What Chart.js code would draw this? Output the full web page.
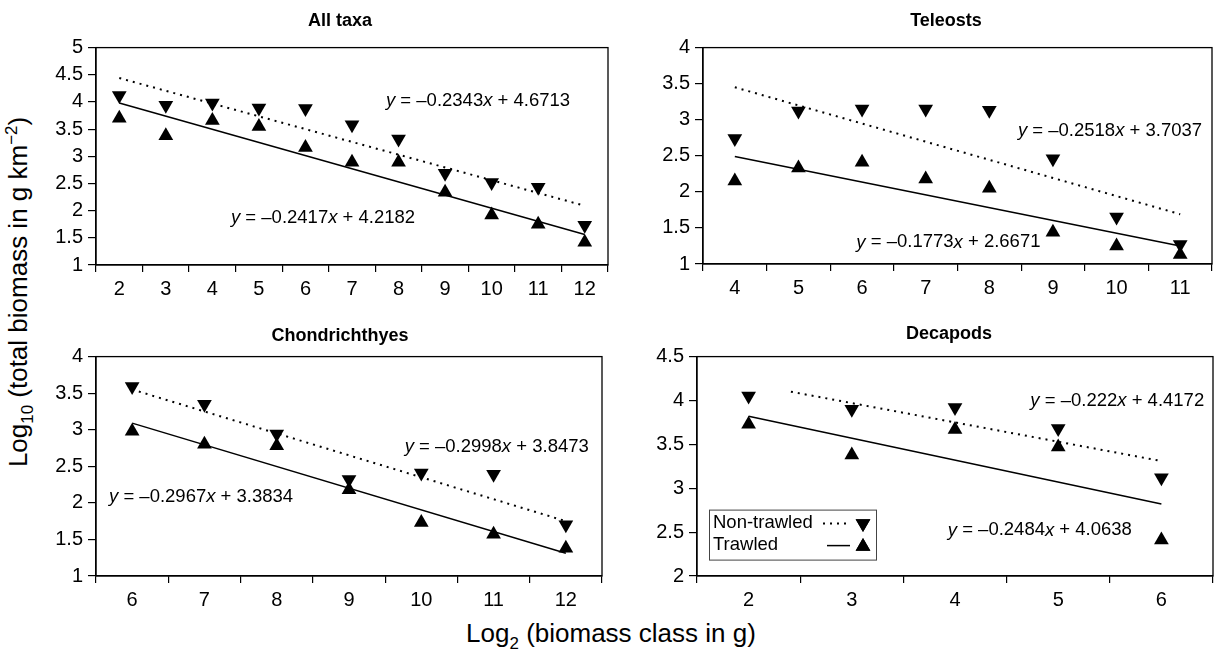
<!DOCTYPE html>
<html>
<head>
<meta charset="utf-8">
<script src="https://cdn.jsdelivr.net/npm/chart.js@4.4.0/dist/chart.umd.min.js"></script>
<style>
  html, body { margin: 0; padding: 0; background: #fff; overflow: hidden; }
  #wrap { position: relative; width: 1214px; height: 655px; overflow: hidden; font-family: "Liberation Sans", Arial, sans-serif; color: #000; }
  .panel { position: absolute; }
  .ytitle { position: absolute; left: 20px; top: 292px; transform: translate(-50%, -50%) rotate(-90deg); white-space: nowrap; font-size: 26px; }
  .xtitle { position: absolute; left: 611px; top: 636px; transform: translate(-50%, -50%); white-space: nowrap; font-size: 26px; }
  sub, sup { font-size: 65%; }
</style>
</head>
<body>
<div id="wrap">
  <div class="ytitle">Log<sub>10</sub> (total biomass in g km<sup>−2</sup>)</div>
  <div class="xtitle">Log<sub>2</sub> (biomass class in g)</div>
  <canvas id="c1" class="panel" width="600" height="310" style="left:40px;top:0px"></canvas>
  <canvas id="c2" class="panel" width="572" height="310" style="left:660px;top:0px"></canvas>
  <canvas id="c3" class="panel" width="600" height="306" style="left:40px;top:315px"></canvas>
  <canvas id="c4" class="panel" width="598" height="308" style="left:650px;top:313px"></canvas>
</div>
<script>
// All taxa
const allTaxaClass = [2, 3, 4, 5, 6, 7, 8, 9, 10, 11, 12];
const allTaxaNon = [4.12, 3.94, 3.98, 3.89, 3.88, 3.58, 3.32, 2.69, 2.52, 2.43, 1.73];
const allTaxaTrawl = [3.70, 3.38, 3.66, 3.55, 3.16, 2.89, 2.89, 2.34, 1.92, 1.75, 1.42];
const allTaxaFitX = [2, 12];
const allTaxaNonFit = [4.44, 2.09];
const allTaxaTrawlFit = [3.98, 1.56];
const allTaxaEq = ["y = –0.2343x + 4.6713", "y = –0.2417x + 4.2182"];

// Teleosts
const teleClass = [4, 5, 6, 7, 8, 9, 10, 11];
const teleNon = [2.74, 3.12, 3.15, 3.15, 3.13, 2.46, 1.65, 1.27];
const teleTrawl = [2.15, 2.33, 2.41, 2.18, 2.05, 1.44, 1.25, 1.13];
const teleFitX = [4, 11];
const teleNonFit = [3.45, 1.69];
const teleTrawlFit = [2.49, 1.25];
const teleEq = ["y = –0.2518x + 3.7037", "y = –0.1773x + 2.6671"];

// Chondrichthyes
const chonClass = [6, 7, 8, 9, 10, 11, 12];
const chonNon = [3.59, 3.35, 2.94, 2.32, 2.41, 2.39, 1.70];
const chonTrawl = [2.98, 2.80, 2.78, 2.18, 1.73, 1.57, 1.38];
const chonFitX = [6, 12];
const chonNonFit = [3.55, 1.75];
const chonTrawlFit = [3.09, 1.31];
const chonEq = ["y = –0.2998x + 3.8473", "y = –0.2967x + 3.3834"];

// Decapods
const decaClass = [2, 3, 4, 5, 6];
const decaNon = [4.05, 3.90, 3.92, 3.68, 3.12];
const decaTrawl = [3.73, 3.38, 3.67, 3.47, 2.41];
const decaNonFitX = [2.41, 6];
const decaNonFit = [4.10, 3.31];
const decaTrawlFitX = [2, 6];
const decaTrawlFit = [3.82, 2.82];
const decaEq = ["y = –0.222x + 4.4172", "y = –0.2484x + 4.0638"];

const legendLabels = ["Non-trawled", "Trawled"];

const FONT = '"Liberation Sans", Arial, sans-serif';
Chart.defaults.font.family = FONT;
Chart.defaults.color = "#000";

const pts = (xs, ys) => xs.map((x, i) => ({ x: x, y: ys[i] }));

function drawEq(ctx, x, y, text) {
  let cx = x;
  text.split(/(x|y)/).forEach((t) => {
    if (!t) return;
    ctx.font = (t === "x" || t === "y" ? "italic " : "") + "18.5px " + FONT;
    ctx.fillText(t, cx, y);
    cx += ctx.measureText(t).width;
  });
}

const framePlugin = {
  id: "frame",
  beforeDatasetsDraw(chart) {
    const a = chart.chartArea;
    const ctx = chart.ctx;
    ctx.save();
    ctx.strokeStyle = "#000";
    ctx.lineWidth = 1.3;
    ctx.strokeRect(a.left, a.top, a.right - a.left, a.bottom - a.top);
    ctx.restore();
  },
  afterDatasetsDraw(chart, args, opts) {
    const ctx = chart.ctx;
    const xs = chart.scales.xv, ys = chart.scales.y;
    ctx.save();
    ctx.fillStyle = "#000";
    ctx.textBaseline = "middle";
    ctx.textAlign = "left";
    (opts.eqs || []).forEach((e) => {
      drawEq(ctx, xs.getPixelForValue(e.x), ys.getPixelForValue(e.y), e.text);
    });
    if (opts.legend) {
      const a = chart.chartArea;
      const L = a.left + opts.legend.dx, T = a.top + opts.legend.dy;
      ctx.strokeStyle = "#444";
      ctx.lineWidth = 1;
      ctx.strokeRect(L + 0.5, T + 0.5, 167, 50);
      ctx.font = "18.5px " + FONT;
      ctx.fillText(legendLabels[0], L + 4, T + 13);
      ctx.fillText(legendLabels[1], L + 4, T + 35);
      ctx.strokeStyle = "#000";
      ctx.lineWidth = 2;
      ctx.setLineDash([2, 5]);
      ctx.beginPath(); ctx.moveTo(L + 114, T + 14); ctx.lineTo(L + 139, T + 14); ctx.stroke();
      ctx.setLineDash([]);
      ctx.lineWidth = 1.5;
      ctx.beginPath(); ctx.moveTo(L + 118, T + 36); ctx.lineTo(L + 141, T + 36); ctx.stroke();
      Chart.helpers.drawPoint(ctx, { pointStyle: "triangle", rotation: 180, radius: 8.5, borderWidth: 0 }, L + 154, T + 14);
      ctx.fill();
      Chart.helpers.drawPoint(ctx, { pointStyle: "triangle", rotation: 0, radius: 8.5, borderWidth: 0 }, L + 154, T + 37);
      ctx.fill();
    }
    ctx.restore();
  }
};

function makePanel(id, p) {
  const first = p.cats[0], last = p.cats[p.cats.length - 1];
  const marker = (data, rot) => ({
    data: data, xAxisID: "xv", yAxisID: "y", showLine: false,
    pointStyle: "triangle", rotation: rot, pointRadius: 8.5, pointHoverRadius: 8.5,
    pointBackgroundColor: "#000", pointBorderColor: "#000", pointBorderWidth: 0, clip: false
  });
  const fit = (data, dash, w) => ({
    data: data, xAxisID: "xv", yAxisID: "y", showLine: true, borderColor: "#000",
    borderWidth: w, borderDash: dash, pointRadius: 0, tension: 0, fill: false, clip: false
  });
  new Chart(document.getElementById(id), {
    type: "line",
    data: {
      datasets: [
        marker(pts(p.cats, p.non), 180),
        marker(pts(p.cats, p.trawl), 0),
        fit(pts(p.nonFitX, p.nonFit), [2, 5], 2),
        fit(pts(p.trawlFitX, p.trawlFit), [], 1.5)
      ]
    },
    options: {
      responsive: false,
      animation: false,
      layout: { padding: 0 },
      scales: {
        x: {
          type: "category",
          labels: p.cats.map(String),
          offset: true,
          grid: { offset: true, drawOnChartArea: false, drawTicks: true, tickLength: 7, color: "#000", lineWidth: 1.2 },
          border: { display: true, color: "#000", width: 1.3 },
          ticks: { font: { size: 20 }, padding: 5, autoSkip: false, maxRotation: 0, color: "#000" },
          afterFit: (s) => { s.height = p.xh; }
        },
        xv: { type: "linear", display: false, min: first - 0.5, max: last + 0.5 },
        y: {
          type: "linear",
          min: p.yMin,
          max: p.yMax,
          grid: { drawOnChartArea: false, drawTicks: true, tickLength: 8, color: "#000", lineWidth: 1.2 },
          border: { display: true, color: "#000", width: 1.3 },
          ticks: { stepSize: 0.5, font: { size: 20 }, padding: 5, color: "#000", callback: (v) => String(v) },
          afterFit: (s) => { s.width = p.yw; }
        },
        // empty right-hand strip so the title stays centred on the whole panel
        yr: {
          type: "linear",
          position: "right",
          grid: { display: false },
          border: { display: false },
          ticks: { display: false },
          afterFit: (s) => { s.width = p.rightGap; }
        }
      },
      plugins: {
        legend: { display: false },
        tooltip: { enabled: false },
        title: {
          display: true,
          text: p.title,
          color: "#000",
          font: { size: 18, weight: "bold" },
          padding: { top: 10, bottom: p.titleGap }
        },
        frame: { eqs: p.eqs, legend: p.legend }
      }
    },
    plugins: [framePlugin]
  });
}

makePanel("c1", {
  title: "All taxa", cats: allTaxaClass, non: allTaxaNon, trawl: allTaxaTrawl,
  nonFitX: allTaxaFitX, nonFit: allTaxaNonFit, trawlFitX: allTaxaFitX, trawlFit: allTaxaTrawlFit,
  yMin: 1, yMax: 5, rightGap: 32, yw: 56, xh: 45, titleGap: 16,
  eqs: [{ x: 7.73, y: 4.02, text: allTaxaEq[0] }, { x: 4.40, y: 1.87, text: allTaxaEq[1] }]
});
makePanel("c2", {
  title: "Teleosts", cats: teleClass, non: teleNon, trawl: teleTrawl,
  nonFitX: teleFitX, nonFit: teleNonFit, trawlFitX: teleFitX, trawlFit: teleTrawlFit,
  yMin: 1, yMax: 4, rightGap: 20, yw: 43, xh: 46, titleGap: 16,
  eqs: [{ x: 8.45, y: 2.84, text: teleEq[0] }, { x: 5.91, y: 1.30, text: teleEq[1] }]
});
makePanel("c3", {
  title: "Chondrichthyes", cats: chonClass, non: chonNon, trawl: chonTrawl,
  nonFitX: chonFitX, nonFit: chonNonFit, trawlFitX: chonFitX, trawlFit: chonTrawlFit,
  yMin: 1, yMax: 4, rightGap: 38, yw: 56, xh: 45, titleGap: 10,
  eqs: [{ x: 9.77, y: 2.77, text: chonEq[0] }, { x: 5.68, y: 2.08, text: chonEq[1] }]
});
makePanel("c4", {
  title: "Decapods", cats: decaClass, non: decaNon, trawl: decaTrawl,
  nonFitX: decaNonFitX, nonFit: decaNonFit, trawlFitX: decaTrawlFitX, trawlFit: decaTrawlFit,
  yMin: 2, yMax: 4.5, rightGap: 35, yw: 47, xh: 45, titleGap: 12,
  eqs: [{ x: 4.73, y: 4.00, text: decaEq[0] }, { x: 3.93, y: 2.52, text: decaEq[1] }],
  legend: { dx: 12, dy: 153 }
});
</script>
</body>
</html>
